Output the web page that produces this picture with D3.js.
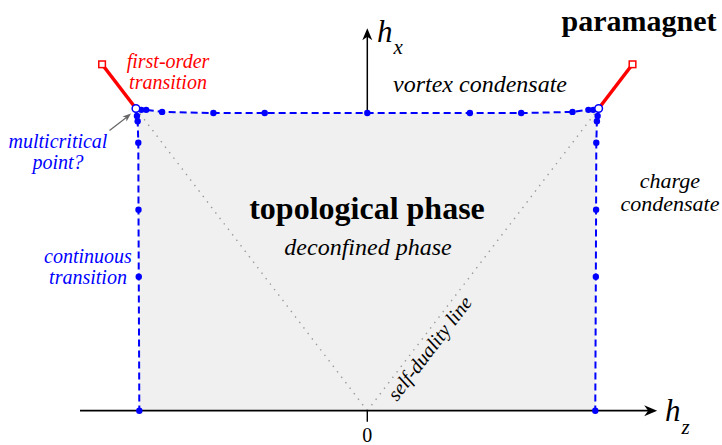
<!DOCTYPE html>
<html>
<head>
<meta charset="utf-8">
<script src="https://cdn.jsdelivr.net/npm/d3@7"></script>
<style>
  body { margin: 0; background: #fff; }
  svg { display: block; }
</style>
</head>
<body>
<svg id="chart" width="722" height="445"></svg>
<script>
// phase boundary points, in (h_z, h_x)
const topHz = [-0.4405, -0.431, -0.4, -0.3, -0.2, 0, 0.2, 0.3, 0.4, 0.431, 0.4405];
const topHx = [0.449, 0.449, 0.446, 0.4443, 0.4443, 0.4443, 0.4443, 0.4443, 0.446, 0.449, 0.449];
const sideHx = [0.44, 0.432, 0.4, 0.3, 0.2, 0];
const sideHz = [0.449, 0.4476, 0.4464, 0.446, 0.4455, 0.4444];
const multicritical = [0.451, 0.451];
const firstOrderEnd = [0.517, 0.517];
const hzAxis = [-0.56, 0.565];
const hxAxis = [0.4443, 0.571];
const tickValues = [0];

const serif = '"Liberation Serif"';
const svg = d3.select("#chart");

const x = d3.scaleLinear().domain([-0.5, 0.5]).range([110.8, 623.8]);
const y = d3.scaleLinear().domain([0, 0.5]).range([410.7, 75.7]);

const blue = "#0000ff";
const red = "#ff0000";

// build boundary polylines
const topLine = [[-multicritical[0], multicritical[1]]]
  .concat(topHz.map((d, i) => [d, topHx[i]]))
  .concat([[multicritical[0], multicritical[1]]]);
const rightLine = [[multicritical[0], multicritical[1]]]
  .concat(sideHx.map((d, i) => [sideHz[i], d]));
const leftLine = rightLine.map((d) => [-d[0], d[1]]);

const line = d3.line().x((d) => x(d[0])).y((d) => y(d[1]));

// shaded topological phase
const shade = leftLine.slice().reverse().concat(topLine.slice(1, -1)).concat(rightLine);
svg.append("path")
  .attr("d", line(shade) + "Z")
  .attr("fill", "#f0f0f0");

// self-duality lines
[-1, 1].forEach((s) => {
  svg.append("path")
    .attr("d", line([[0, 0], [s * multicritical[0], multicritical[1]]]))
    .attr("fill", "none")
    .attr("stroke", "#999")
    .attr("stroke-width", 1.4)
    .attr("stroke-dasharray", "1.4,5.5");
});

// axes
svg.append("line")
  .attr("x1", x(hzAxis[0])).attr("x2", x(hzAxis[1]) - 6)
  .attr("y1", y(0)).attr("y2", y(0))
  .attr("stroke", "#000").attr("stroke-width", 1.8);
const hxTip = x(hzAxis[1]);
svg.append("path")
  .attr("d", `M${hxTip},${y(0)} L${hxTip - 13},${y(0) - 5.5} L${hxTip - 9},${y(0)} L${hxTip - 13},${y(0) + 5.5} Z`)
  .attr("fill", "#000");

svg.append("line")
  .attr("x1", x(0)).attr("x2", x(0))
  .attr("y1", y(hxAxis[0])).attr("y2", y(hxAxis[1]) + 6)
  .attr("stroke", "#000").attr("stroke-width", 1.5);
const vTip = y(hxAxis[1]);
svg.append("path")
  .attr("d", `M${x(0)},${vTip} L${x(0) - 5},${vTip + 12} L${x(0)},${vTip + 8.5} L${x(0) + 5},${vTip + 12} Z`)
  .attr("fill", "#000");

// tick at zero
svg.selectAll(".tick")
  .data(tickValues)
  .enter()
  .append("line")
  .attr("x1", (d) => x(d)).attr("x2", (d) => x(d))
  .attr("y1", y(0)).attr("y2", y(0) + 11)
  .attr("stroke", "#000").attr("stroke-width", 1.4);
svg.selectAll(".ticklabel")
  .data(tickValues)
  .enter()
  .append("text")
  .attr("x", (d) => x(d))
  .attr("y", 442)
  .attr("text-anchor", "middle")
  .attr("font-size", 20)
  .style("font-family", serif)
  .text((d) => d);

// first-order lines
[-1, 1].forEach((s) => {
  svg.append("path")
    .attr("d", line([[s * multicritical[0], multicritical[1]], [s * firstOrderEnd[0], firstOrderEnd[1]]]))
    .attr("stroke", red)
    .attr("stroke-width", 3.5);
});

// dashed continuous transitions
[topLine, leftLine, rightLine].forEach((pts) => {
  svg.append("path")
    .attr("d", line(pts))
    .attr("fill", "none")
    .attr("stroke", blue)
    .attr("stroke-width", 2)
    .attr("stroke-dasharray", "7,4");
});

// data points
const dots = topLine.slice(1, -1).concat(rightLine.slice(1)).concat(leftLine.slice(1));
svg.selectAll(".dot")
  .data(dots)
  .enter()
  .append("circle")
  .attr("cx", (d) => x(d[0]))
  .attr("cy", (d) => y(d[1]))
  .attr("r", 3.2)
  .attr("fill", blue);

// multicritical points
svg.selectAll(".mc")
  .data([-1, 1])
  .enter()
  .append("circle")
  .attr("cx", (s) => x(s * multicritical[0]))
  .attr("cy", y(multicritical[1]))
  .attr("r", 3.8)
  .attr("fill", "#fff")
  .attr("stroke", blue)
  .attr("stroke-width", 1.5);

// first-order end points
svg.selectAll(".end")
  .data([-1, 1])
  .enter()
  .append("rect")
  .attr("x", (s) => x(s * firstOrderEnd[0]) - 3.3)
  .attr("y", y(firstOrderEnd[1]) - 3.3)
  .attr("width", 6.6)
  .attr("height", 6.6)
  .attr("fill", "#fff")
  .attr("stroke", red)
  .attr("stroke-width", 1.5);

// arrow to the multicritical point
svg.append("line")
  .attr("x1", 109.5).attr("y1", 130.5)
  .attr("x2", 127).attr("y2", 117)
  .attr("stroke", "#666").attr("stroke-width", 1.2);
svg.append("path")
  .attr("d", "M131,113.5 L122.5,116.5 L126.2,117.6 L126.5,121.5 Z")
  .attr("fill", "#666");

// axis labels
function axisLabel(px, py, sub, subDy) {
  const t = svg.append("text")
    .attr("x", px).attr("y", py)
    .style("font-family", serif)
    .attr("font-style", "italic")
    .attr("font-size", 31);
  t.append("tspan").text("h");
  t.append("tspan").attr("font-size", 21).attr("dy", subDy).attr("dx", 1).text(sub);
}
axisLabel(377, 42, "x", 12);
axisLabel(665, 421, "z", 13);

// annotations
const labels = [
  { lines: ["paramagnet"], x: 639, y: 31, size: 30, weight: "bold", style: "normal", color: "#000" },
  { lines: ["first-order", "transition"], x: 168, y: 68, size: 20, style: "italic", color: red },
  { lines: ["vortex condensate"], x: 480, y: 92, size: 24, style: "italic", color: "#000" },
  { lines: ["multicritical", "point?"], x: 58, y: 148, size: 20, style: "italic", color: blue },
  { lines: ["charge", "condensate"], x: 670, y: 188, size: 22, style: "italic", color: "#000" },
  { lines: ["topological phase"], x: 367, y: 219, size: 32, weight: "bold", style: "normal", color: "#000" },
  { lines: ["deconfined phase"], x: 368, y: 255, size: 24, style: "italic", color: "#000" },
  { lines: ["continuous", "transition"], x: 88, y: 263, size: 20, style: "italic", color: blue }
];
labels.forEach((l) => {
  const t = svg.append("text")
    .attr("x", l.x).attr("y", l.y)
    .style("font-family", serif)
    .attr("text-anchor", "middle")
    .attr("font-size", l.size)
    .attr("font-weight", l.weight || "normal")
    .attr("font-style", l.style)
    .attr("fill", l.color);
  l.lines.forEach((s, i) => {
    t.append("tspan").attr("x", l.x).attr("dy", i === 0 ? 0 : l.size * 1.05).text(s);
  });
});

// self-duality label along the diagonal
const ang = Math.atan2(y(multicritical[1]) - y(0), x(multicritical[0]) - x(0)) * 180 / Math.PI;
svg.append("text")
  .attr("transform", `translate(397,402) rotate(${ang})`)
  .style("font-family", serif)
  .attr("font-style", "italic")
  .attr("font-size", 20)
  .text("self-duality line");
</script>
</body>
</html>
